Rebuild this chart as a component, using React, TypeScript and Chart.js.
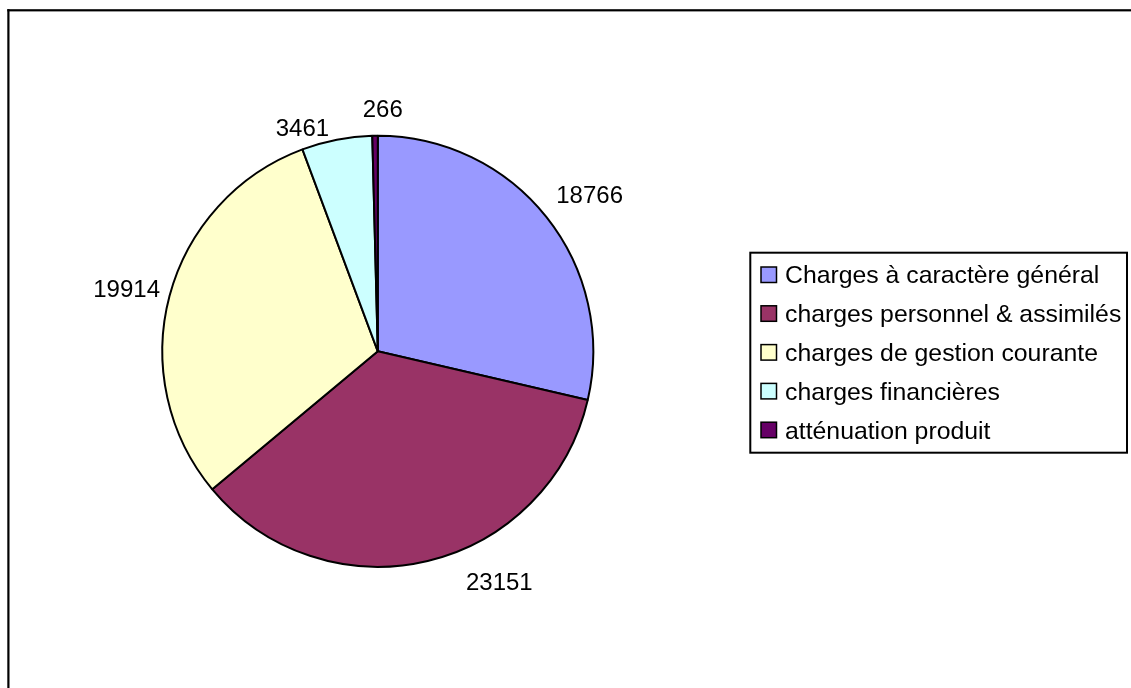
import React, { useEffect, useRef } from "react";
import { Chart, registerables } from "chart.js";

Chart.register(...registerables);

const categories = [
  "Charges à caractère général",
  "charges personnel & assimilés",
  "charges de gestion courante",
  "charges financières",
  "atténuation produit",
];
const values = [18766, 23151, 19914, 3461, 266];
const colors = ["#9999FF", "#993366", "#FFFFCC", "#CCFFFF", "#660066"];

// label placement (relative to slice mid-angle and radius)
const labelAngleNudge = [1.9, -14.5, -0.7, -7.6, 1.9];
const labelDistFactor = [1.224, 1.206, 1.202, 1.098, 1.129];

const FONT = "'Liberation Sans', Arial, sans-serif";
const FONT_SIZE = 24;
const LEGEND_FONT_SIZE = 24.8;
const CAP = FONT_SIZE * 0.716;

const decorPlugin = {
  id: "decor",
  afterDraw(chart: any) {
    const ctx = chart.ctx as CanvasRenderingContext2D;
    ctx.save();
    // outer frame (top + left visible)
    ctx.fillStyle = "#000";
    ctx.fillRect(7.3, 9.2, 1131, 2.2);
    ctx.fillRect(7.3, 9.2, 2.2, 688);

    // value labels
    const meta = chart.getDatasetMeta(0);
    ctx.font = `${FONT_SIZE}px ${FONT}`;
    ctx.textAlign = "center";
    ctx.textBaseline = "alphabetic";
    ctx.fillStyle = "#000";
    meta.data.forEach((arc: any, i: number) => {
      const p = arc.getProps(["x", "y", "startAngle", "endAngle", "outerRadius"], true);
      const mid = (p.startAngle + p.endAngle) / 2 + (labelAngleNudge[i] * Math.PI) / 180;
      const d = p.outerRadius * labelDistFactor[i];
      const cx = p.x + Math.cos(mid) * d;
      const cy = p.y + Math.sin(mid) * d;
      ctx.fillText(String(chart.data.datasets[0].data[i]), cx, cy + CAP / 2);
    });

    // legend
    const lx = 750.3, ly = 252.7, lw = 376.7, lh = 200;
    ctx.lineWidth = 2;
    ctx.strokeStyle = "#000";
    ctx.strokeRect(lx, ly, lw, lh);
    ctx.textAlign = "left";
    ctx.font = `${LEGEND_FONT_SIZE}px ${FONT}`;
    const labels: string[] = chart.data.labels;
    const bg: string[] = chart.data.datasets[0].backgroundColor;
    labels.forEach((lab, i) => {
      const cy = 274.5 + i * 38.8;
      ctx.fillStyle = bg[i];
      ctx.fillRect(761, cy - 7.5, 15.5, 15.5);
      ctx.lineWidth = 1.5;
      ctx.strokeStyle = "#000";
      ctx.strokeRect(761, cy - 7.5, 15.5, 15.5);
      ctx.fillStyle = "#000";
      ctx.fillText(lab, 785, cy + (LEGEND_FONT_SIZE * 0.716) / 2);
    });
    ctx.restore();
  },
};

export default function App() {
  const ref = useRef<HTMLCanvasElement | null>(null);

  useEffect(() => {
    document.body.style.margin = "0";
    document.body.style.overflow = "hidden";
    const side = 433;
    const left = 161.3;
    const top = 134.8;
    const chart = new Chart(ref.current as HTMLCanvasElement, {
      type: "pie",
      data: {
        labels: categories,
        datasets: [
          {
            data: values,
            backgroundColor: colors,
            borderColor: "#000",
            borderWidth: 2,
          },
        ],
      },
      options: {
        animation: false,
        responsive: false,
        maintainAspectRatio: false,
        layout: {
          padding: {
            left: left,
            top: top,
            right: 1131 - left - side,
            bottom: 688 - top - side,
          },
        },
        plugins: {
          legend: { display: false },
          tooltip: { enabled: false },
          title: { display: false },
        },
      },
      plugins: [decorPlugin],
    });
    return () => chart.destroy();
  }, []);

  return (
    <div style={{ position: "fixed", left: 0, top: 0, width: 1131, height: 688, background: "#fff" }}>
      <canvas ref={ref} width={1131} height={688} style={{ display: "block", width: 1131, height: 688 }} />
    </div>
  );
}
